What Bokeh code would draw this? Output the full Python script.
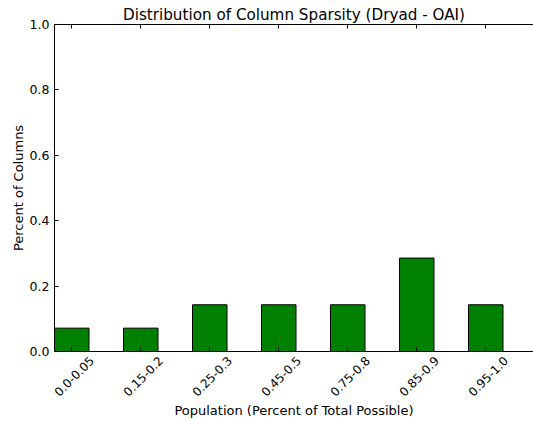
import math
from bokeh.plotting import figure
from bokeh.models import LinearAxis, FixedTicker, Range1d, Title
from bokeh.embed import file_html
from bokeh.resources import INLINE

# ---- data ----
categories = ["0.0-0.05", "0.15-0.2", "0.25-0.3", "0.45-0.5", "0.75-0.8", "0.85-0.9", "0.95-1.0"]
percent = [0.0714, 0.0714, 0.1429, 0.1429, 0.1429, 0.2857, 0.1429]
y_ticks = [0.0, 0.2, 0.4, 0.6, 0.8, 1.0]
y_tick_labels = ["0.0", "0.2", "0.4", "0.6", "0.8", "1.0"]

title_text = "Distribution of Column Sparsity (Dryad - OAI)"
x_label = "Population (Percent of Total Possible)"
y_label = "Percent of Columns"

FONT = "DejaVu Sans"
positions = list(range(len(categories)))
LABEL_SHIFT = 0.29  # shift of rotated labels so they centre on their bar

p = figure(width=533, height=421, output_backend="svg", toolbar_location=None,
           x_range=Range1d(-0.25, 6.692), y_range=Range1d(0, 1),
           x_axis_type=None, y_axis_type=None,
           min_border_left=54, min_border_right=0, min_border_top=24, min_border_bottom=70)
p.outline_line_color = None
p.background_fill_color = "white"
p.border_fill_color = "white"

p.vbar(x=positions, top=percent, width=0.5, fill_color="#008000",
       line_color="black", line_width=1)

# left axis
yax = LinearAxis(ticker=FixedTicker(ticks=y_ticks),
                 major_label_overrides=dict(zip(y_ticks, y_tick_labels)),
                 axis_label=y_label)
yax.major_tick_in = 4
yax.major_tick_out = 0
yax.minor_tick_line_color = None
yax.axis_line_color = "black"
yax.major_label_standoff = 5
yax.major_label_text_font = FONT
yax.major_label_text_font_size = "12.5px"
yax.major_label_text_color = "black"
yax.axis_label_text_font = FONT
yax.axis_label_text_font_size = "13px"
yax.axis_label_text_font_style = "normal"
yax.axis_label_text_color = "black"
yax.axis_label_standoff = 1
p.add_layout(yax, "left")

blank = {x: "" for x in positions}

# bottom axis: spine + inward ticks
xax = LinearAxis(ticker=FixedTicker(ticks=positions), major_label_overrides=blank)
xax.major_tick_in = 4
xax.major_tick_out = 0
xax.minor_tick_line_color = None
xax.axis_line_color = "black"
xax.major_label_text_font_size = "1px"
xax.major_label_standoff = 0
p.add_layout(xax, "below")

# bottom axis: rotated category labels + axis title
label_pos = [x + LABEL_SHIFT for x in positions]
lax = LinearAxis(ticker=FixedTicker(ticks=label_pos),
                 major_label_overrides=dict(zip(label_pos, categories)),
                 axis_label=x_label)
lax.axis_line_color = None
lax.major_tick_line_color = None
lax.minor_tick_line_color = None
lax.major_label_orientation = math.pi / 4
lax.major_label_standoff = 1
lax.major_label_text_font = FONT
lax.major_label_text_font_size = "12px"
lax.major_label_text_color = "black"
lax.axis_label_text_font = FONT
lax.axis_label_text_font_size = "13px"
lax.axis_label_text_font_style = "normal"
lax.axis_label_text_color = "black"
lax.axis_label_standoff = 0
p.add_layout(lax, "below")

# top axis: spine + inward ticks
tax = LinearAxis(ticker=FixedTicker(ticks=positions), major_label_overrides=blank)
tax.major_tick_in = 4
tax.major_tick_out = 0
tax.minor_tick_line_color = None
tax.axis_line_color = "black"
tax.major_label_text_font_size = "1px"
tax.major_label_standoff = 0
p.add_layout(tax, "above")

# title
p.add_layout(Title(text=title_text, align="center", text_font=FONT,
                   text_font_size="15.2px", text_font_style="normal",
                   text_color="black", standoff=2, offset=-3), "above")

open("out.html", "w").write(file_html(p, INLINE))
